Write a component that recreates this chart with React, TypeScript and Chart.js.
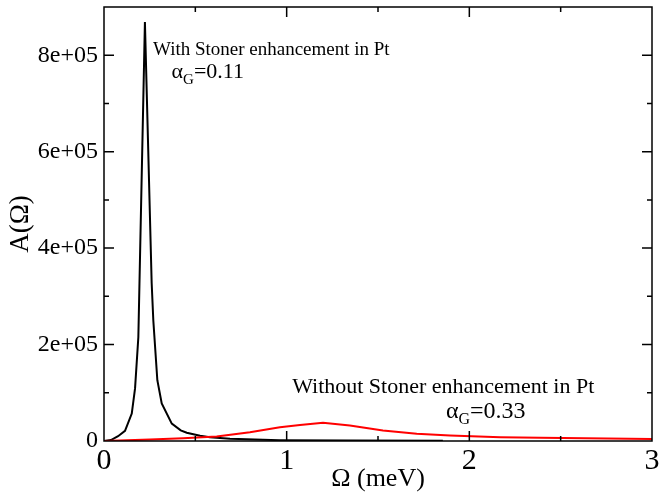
import React, { useEffect, useRef } from "react";
import { Chart, registerables } from "chart.js";

Chart.register(...registerables);

// Black: with Stoner enhancement (alpha_G = 0.11)
const withStonerX = [0, 0.038, 0.077, 0.115, 0.152, 0.17, 0.188, 0.224, 0.261, 0.27, 0.292, 0.316, 0.371, 0.42, 0.453, 0.526, 0.58, 0.69, 0.96, 1.35, 1.855];
const withStonerY = [0, 2000, 10000, 21000, 57000, 109000, 215000, 869000, 327000, 250000, 126000, 78000, 36000, 22000, 17000, 11000, 8000, 4500, 1800, 900, 400];

// Red: without Stoner enhancement (alpha_G = 0.33)
const withoutStonerX = [0, 0.252, 0.433, 0.617, 0.799, 0.963, 1.073, 1.199, 1.346, 1.527, 1.712, 1.894, 2.17, 2.39, 3.0];
const withoutStonerY = [0, 3100, 5800, 9300, 18000, 28600, 33000, 37700, 32000, 21800, 15000, 11400, 7900, 6600, 4100];

const xTicks = [0, 1, 2, 3];
const yTicks = [0, 200000, 400000, 600000, 800000];

const xTitle = "Ω (meV)";
const yTitle = "A(Ω)";
const label1 = "With Stoner enhancement in Pt";
const alpha1 = "0.11";
const label2 = "Without Stoner enhancement in Pt";
const alpha2 = "0.33";

const SERIF = "'Liberation Serif', 'Times New Roman', Times, serif";

function toPoints(xs: number[], ys: number[]) {
  return xs.map((x, i) => ({ x, y: ys[i] }));
}

function fmtY(v: number) {
  if (v === 0) return "0";
  return v.toExponential(0).replace(/e([+-])(\d)$/, "e$10$2");
}

const framePlugin = {
  id: "framePlugin",
  afterDatasetsDraw(chart: any) {
    const { ctx, chartArea } = chart;
    const { left, right, top, bottom } = chartArea;
    const xs = chart.scales.x;
    const ys = chart.scales.y;
    ctx.save();
    ctx.strokeStyle = "#000";
    ctx.lineWidth = 1.5;
    ctx.beginPath();
    const major = 10;
    const minor = 5;
    for (let v = 0; v <= 3.0001; v += 0.5) {
      const px = xs.getPixelForValue(v);
      if (px <= left + 1 || px >= right - 1) continue;
      const len = Math.abs(v - Math.round(v)) < 1e-6 ? major : minor;
      ctx.moveTo(px, bottom);
      ctx.lineTo(px, bottom - len);
      ctx.moveTo(px, top);
      ctx.lineTo(px, top + len);
    }
    for (let v = 0; v <= 900000; v += 100000) {
      const py = ys.getPixelForValue(v);
      if (py >= bottom - 1 || py <= top + 1) continue;
      const len = v % 200000 === 0 ? major : minor;
      ctx.moveTo(left, py);
      ctx.lineTo(left + len, py);
      ctx.moveTo(right, py);
      ctx.lineTo(right - len, py);
    }
    ctx.stroke();
    ctx.strokeRect(left, top, right - left, bottom - top);

    const drawAlpha = (x: number, y: number, val: string, size: number) => {
      let px = xs.getPixelForValue(x);
      const py = ys.getPixelForValue(y);
      const sub = Math.round(size * 0.68);
      ctx.font = `${size}px ${SERIF}`;
      ctx.fillText("α", px, py);
      px += ctx.measureText("α").width;
      ctx.font = `${sub}px ${SERIF}`;
      ctx.fillText("G", px, py + Math.round(size * 0.25));
      px += ctx.measureText("G").width;
      ctx.font = `${size}px ${SERIF}`;
      ctx.fillText("=" + val, px, py);
    };
    ctx.fillStyle = "#000";
    ctx.textBaseline = "alphabetic";
    ctx.textAlign = "left";
    ctx.font = `19px ${SERIF}`;
    ctx.fillText(label1, xs.getPixelForValue(0.268), ys.getPixelForValue(800000));
    drawAlpha(0.37, 752000, alpha1, 22);
    ctx.font = `22px ${SERIF}`;
    ctx.fillText(label2, xs.getPixelForValue(1.03), ys.getPixelForValue(100000));
    drawAlpha(1.872, 48000, alpha2, 24);
    ctx.restore();
  },
};

export default function App() {
  const ref = useRef<HTMLCanvasElement | null>(null);
  useEffect(() => {
    if (!ref.current) return;
    const chart = new Chart(ref.current, {
      type: "scatter",
      data: {
        datasets: [
          {
            label: "without",
            data: toPoints(withoutStonerX, withoutStonerY),
            showLine: true,
            borderColor: "#ff0000",
            backgroundColor: "#ff0000",
            borderWidth: 2,
            pointRadius: 0,
            tension: 0,
          },
          {
            label: "with",
            data: toPoints(withStonerX, withStonerY),
            showLine: true,
            borderColor: "#000000",
            backgroundColor: "#000000",
            borderWidth: 2,
            pointRadius: 0,
            tension: 0,
          },
        ],
      },
      options: {
        responsive: false,
        animation: false,
        layout: { padding: { top: 7, right: 8, left: 0, bottom: 0 } },
        plugins: {
          legend: { display: false },
          tooltip: { enabled: false },
        },
        scales: {
          x: {
            type: "linear",
            min: 0,
            max: 3,
            afterBuildTicks: (s: any) => {
              s.ticks = xTicks.map((v) => ({ value: v }));
            },
            afterFit: (s: any) => {
              s.height = 51;
              s.paddingLeft = 0;
              s.paddingRight = 0;
            },
            grid: { display: false, drawTicks: false },
            border: { display: false },
            ticks: {
              color: "#000",
              padding: 2,
              maxRotation: 0,
              autoSkip: false,
              font: { family: SERIF, size: 30 },
              callback: (v: any) => String(v),
            },
            title: {
              display: true,
              text: xTitle,
              color: "#000",
              font: { family: SERIF, size: 26 },
              padding: { top: -8, bottom: -3 },
            },
          },
          y: {
            type: "linear",
            min: 0,
            max: 900000,
            afterBuildTicks: (s: any) => {
              s.ticks = yTicks.map((v) => ({ value: v }));
            },
            afterFit: (s: any) => {
              s.width = 104;
              s.paddingTop = 0;
              s.paddingBottom = 0;
            },
            grid: { display: false, drawTicks: false },
            border: { display: false },
            ticks: {
              color: "#000",
              padding: 6,
              autoSkip: false,
              font: { family: SERIF, size: 24 },
              callback: (v: any) => fmtY(Number(v)),
            },
            title: {
              display: true,
              text: yTitle,
              color: "#000",
              font: { family: SERIF, size: 27 },
              padding: { top: 5, bottom: 0 },
            },
          },
        },
      },
      plugins: [framePlugin],
    } as any);
    return () => chart.destroy();
  }, []);
  return (
    <div style={{ position: "fixed", left: 0, top: 0, width: 660, height: 492, background: "#fff" }}>
      <canvas ref={ref} width={660} height={492} style={{ display: "block" }} />
    </div>
  );
}
